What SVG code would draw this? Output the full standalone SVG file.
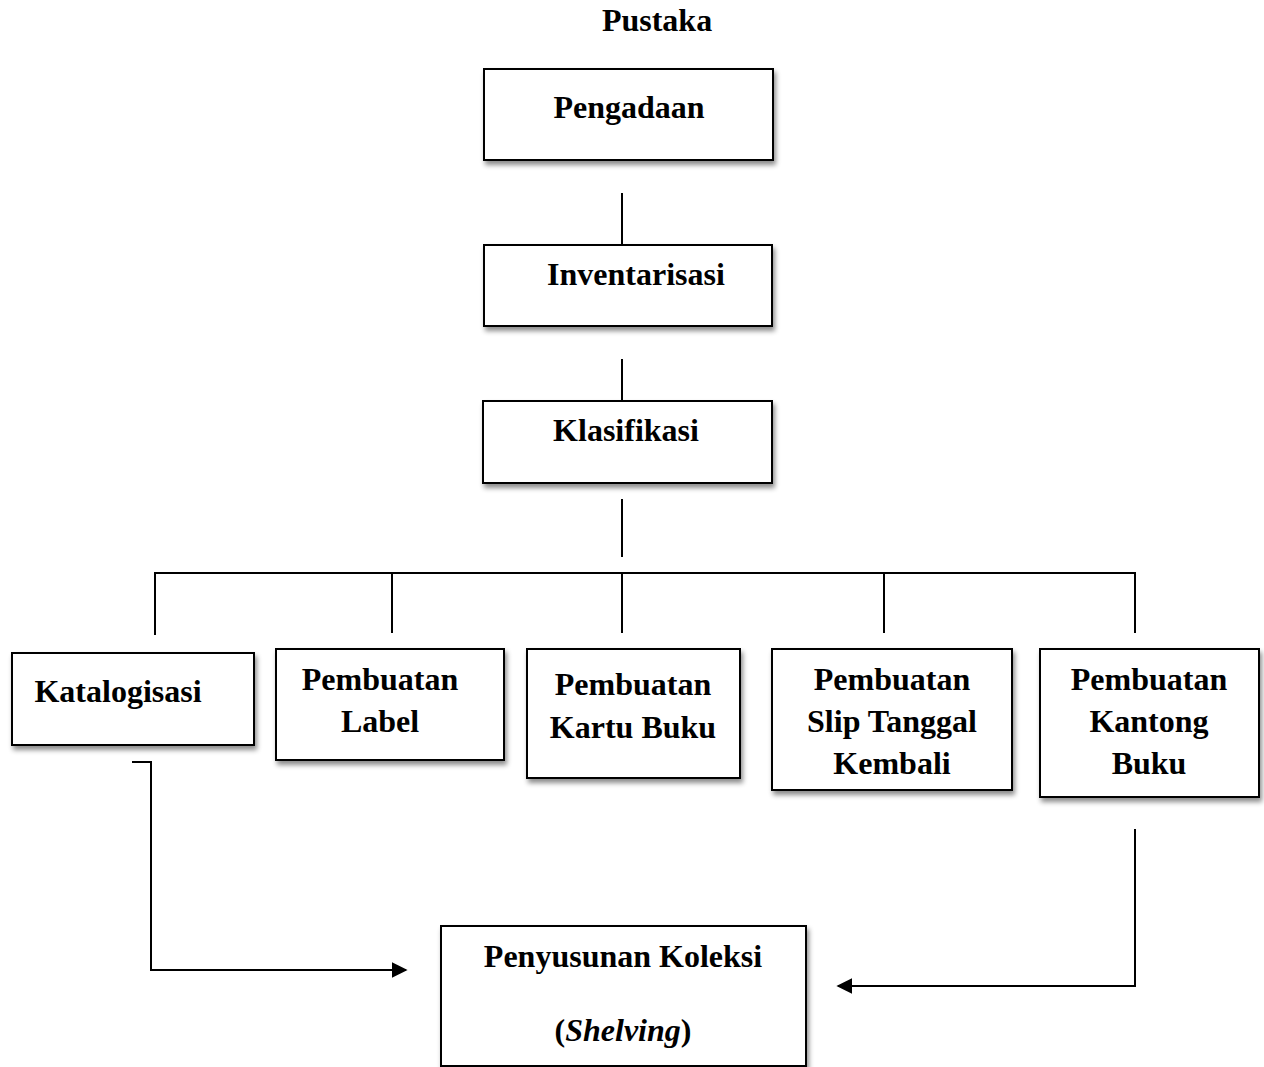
<svg xmlns="http://www.w3.org/2000/svg" width="1264" height="1067" viewBox="0 0 1264 1067">
<defs>
<filter id="sh" x="-10%" y="-10%" width="130%" height="140%">
<feDropShadow dx="2" dy="4" stdDeviation="2.5" flood-color="#000" flood-opacity="0.45"/>
</filter>
<marker id="arr" viewBox="0 0 10 10" refX="9" refY="5" markerWidth="16" markerHeight="16" markerUnits="userSpaceOnUse" orient="auto">
<path d="M0,0 L10,5 L0,10 Z" fill="#000"/>
</marker>
</defs>
<style>
.box{fill:#fff;stroke:#000;stroke-width:2;filter:url(#sh)}
.t{font-family:"Liberation Serif","Times New Roman",serif;font-weight:bold;font-size:32px;fill:#000;text-anchor:middle}
.c{fill:none;stroke:#000;stroke-width:2}
</style>
<rect width="1264" height="1067" fill="#fff"/>
<text class="t" x="657" y="31">Pustaka</text>
<g id="n-pengadaan"><rect class="box" x="484" y="69" width="289" height="91"/><text class="t" x="629" y="118">Pengadaan</text></g>
<g id="n-inventarisasi"><rect class="box" x="484" y="245" width="288" height="81"/><text class="t" x="636" y="285">Inventarisasi</text></g>
<g id="n-klasifikasi"><rect class="box" x="483" y="401" width="289" height="82"/><text class="t" x="626" y="441">Klasifikasi</text></g>
<g id="n-katalogisasi"><rect class="box" x="12" y="653" width="242" height="92"/><text class="t" x="118" y="702">Katalogisasi</text></g>
<g id="n-label"><rect class="box" x="276" y="649" width="228" height="111"/><text class="t" x="380" y="690">Pembuatan</text><text class="t" x="380" y="732">Label</text></g>
<g id="n-kartu"><rect class="box" x="527" y="649" width="213" height="129"/><text class="t" x="633" y="695">Pembuatan</text><text class="t" x="633" y="738">Kartu Buku</text></g>
<g id="n-slip"><rect class="box" x="772" y="649" width="240" height="141"/><text class="t" x="892" y="690">Pembuatan</text><text class="t" x="892" y="732">Slip Tanggal</text><text class="t" x="892" y="774">Kembali</text></g>
<g id="n-kantong"><rect class="box" x="1040" y="649" width="219" height="148"/><text class="t" x="1149" y="690">Pembuatan</text><text class="t" x="1149" y="732">Kantong</text><text class="t" x="1149" y="774">Buku</text></g>
<g id="n-penyusunan"><rect class="box" x="441" y="926" width="365" height="140"/><text class="t" x="623" y="967">Penyusunan Koleksi</text><text class="t" x="623" y="1041">(<tspan font-style="italic">Shelving</tspan>)</text></g>
<g id="connectors">
<line class="c" x1="622" y1="193" x2="622" y2="244"/>
<line class="c" x1="622" y1="359" x2="622" y2="400"/>
<line class="c" x1="622" y1="499" x2="622" y2="557"/>
<line class="c" x1="154" y1="573" x2="1136" y2="573"/>
<line class="c" x1="155" y1="573" x2="155" y2="635"/>
<line class="c" x1="392" y1="573" x2="392" y2="633"/>
<line class="c" x1="622" y1="573" x2="622" y2="633"/>
<line class="c" x1="884" y1="573" x2="884" y2="633"/>
<line class="c" x1="1135" y1="573" x2="1135" y2="633"/>
<path class="c" d="M132,762 H151 V970 H406" marker-end="url(#arr)"/>
<path class="c" d="M1135,829 V986 H838" marker-end="url(#arr)"/>
</g>
</svg>
